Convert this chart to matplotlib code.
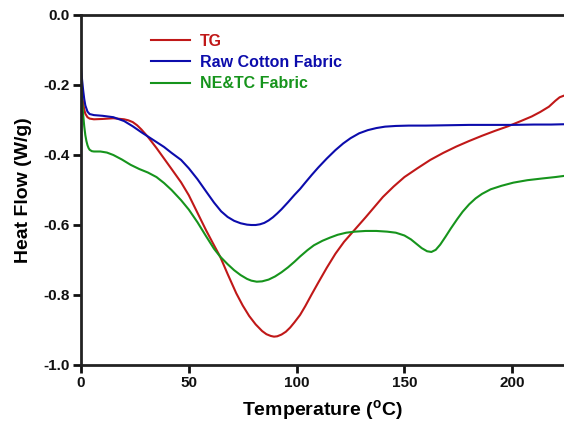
import matplotlib
matplotlib.use("Agg")
import matplotlib.pyplot as plt

plt.rcParams['font.family'] = ['Liberation Sans', 'DejaVu Sans']
plt.rcParams['font.weight'] = 'bold'
plt.rcParams['axes.unicode_minus'] = False
plt.rcParams['mathtext.fontset'] = 'custom'
plt.rcParams['mathtext.rm'] = 'Liberation Sans:bold'
plt.rcParams['mathtext.bf'] = 'Liberation Sans:bold'

tg_x = [0, 0.5, 1, 1.5, 2, 3, 4, 6, 10, 15, 20, 22, 24, 26, 28, 31, 35, 38.5, 42, 46.4, 50,
        54, 58, 61, 64.5, 68, 72, 75, 78, 81, 84, 86, 88, 89.5, 91, 93, 95, 97, 99, 101.6,
        104, 107, 110, 114, 118, 122, 127, 132, 136, 140, 145, 150, 156, 162, 168, 174,
        180, 186, 192, 198, 204, 209, 213, 217, 220, 222, 225]
tg_y = [-0.205, -0.23, -0.252, -0.27, -0.282, -0.292, -0.296, -0.298, -0.297, -0.295, -0.298,
        -0.301, -0.306, -0.315, -0.327, -0.348, -0.38, -0.41, -0.44, -0.478, -0.515,
        -0.565, -0.615, -0.65, -0.69, -0.74, -0.795, -0.83, -0.86, -0.884, -0.903, -0.912,
        -0.917, -0.919, -0.918, -0.913, -0.905, -0.893, -0.878, -0.857,
        -0.832, -0.798, -0.765, -0.722, -0.682, -0.648, -0.613, -0.578, -0.549, -0.52, -0.49,
        -0.463, -0.438, -0.414, -0.394, -0.376, -0.36, -0.345, -0.331, -0.318, -0.303,
        -0.29, -0.277, -0.262, -0.245, -0.235, -0.228]

raw_x = [0, 0.5, 1, 1.5, 2, 3, 4, 6, 10, 15, 20, 24, 28, 33, 38.5, 42, 46.4, 50, 54, 58,
         61.7, 65, 68, 71, 74, 77, 79, 81, 83, 85, 87, 89, 91, 93, 96, 99, 101.6, 104, 107,
         110, 114, 118, 121.6, 125, 129, 133, 137, 141, 146, 152, 160, 170, 180, 190, 200,
         210, 218, 225]
raw_y = [-0.15, -0.185, -0.215, -0.24, -0.258, -0.276, -0.283, -0.286, -0.288, -0.292,
         -0.303, -0.318, -0.335, -0.355, -0.377, -0.394, -0.414, -0.438, -0.469, -0.504,
         -0.536, -0.561, -0.577, -0.588, -0.595, -0.599, -0.600, -0.600, -0.598, -0.594,
         -0.587, -0.578, -0.567, -0.555, -0.535, -0.514, -0.497, -0.479, -0.457,
         -0.436, -0.41, -0.386, -0.367, -0.352, -0.338, -0.329, -0.323, -0.319, -0.317,
         -0.316, -0.316, -0.315, -0.314, -0.314, -0.314, -0.313, -0.313, -0.312]

ne_x = [0, 0.5, 1, 1.5, 2, 2.5, 3, 3.5, 4, 5, 6, 9, 12, 15, 19, 23, 27, 31, 35, 38.5, 42,
        46.4, 50, 54, 58, 61.7, 64.5, 68, 71, 74, 77, 79, 81.5, 84, 87, 90, 93, 96, 99,
        101.6, 105, 108, 112, 115.5, 119, 123, 127, 132, 137, 142, 146, 150, 153, 156,
        158, 160.5, 162.5, 164.5, 166.6, 169, 171.5, 174.5, 177, 180, 183, 186, 190, 195,
        200.5, 207, 214, 220, 225]
ne_y = [-0.205, -0.245, -0.285, -0.318, -0.343, -0.36, -0.372, -0.38, -0.385, -0.389, -0.39,
        -0.39, -0.393, -0.40, -0.413, -0.428, -0.44, -0.45, -0.463, -0.48, -0.50,
        -0.529, -0.556, -0.592, -0.632, -0.668, -0.69, -0.712, -0.729, -0.743, -0.754,
        -0.759, -0.762, -0.761, -0.756, -0.747, -0.735, -0.721, -0.705,
        -0.69, -0.672, -0.658, -0.645, -0.636, -0.628, -0.622, -0.619, -0.617, -0.617,
        -0.619, -0.622, -0.63, -0.641, -0.656, -0.666, -0.675, -0.677, -0.671, -0.656,
        -0.634, -0.61, -0.583, -0.562, -0.541, -0.524, -0.511, -0.498, -0.488,
        -0.479, -0.472, -0.467, -0.463, -0.459]

x_ticks = [0, 50, 100, 150, 200]
y_ticks = [0.0, -0.2, -0.4, -0.6, -0.8, -1.0]
labels = ['TG', 'Raw Cotton Fabric', 'NE&TC Fabric']
colors = ['#c01818', '#0c0cac', '#16941c']

fig = plt.figure(figsize=(5.64, 4.26), dpi=100)
ax = fig.add_axes([81/564, 61/426, 1 - 81/564, 350/426])

lines = []
for xs, ys, c, lab in zip([tg_x, raw_x, ne_x], [tg_y, raw_y, ne_y], colors, labels):
    l, = ax.plot(xs, ys, color=c, lw=1.5, label=lab, solid_joinstyle='round')
    lines.append(l)

ax.set_xlim(0, 224)
ax.set_ylim(-1.0, 0.0)
ax.set_xticks(x_ticks)
ax.set_yticks(y_ticks)
ax.set_yticklabels([f'{v:.1f}' for v in y_ticks])
ax.spines['right'].set_visible(False)
for s in ['left', 'bottom', 'top']:
    ax.spines[s].set_linewidth(2.0)
    ax.spines[s].set_color('#222222')
ax.tick_params(axis='both', direction='out', length=5.5, width=2.0, labelsize=11,
               colors='#111111', pad=2.5)
ax.tick_params(axis='x', top=False)

ax.set_xlabel(r'Temperature ($\mathregular{^o}$C)', fontsize=14, fontweight='bold', labelpad=6)
ax.set_ylabel('Heat Flow (W/g)', fontsize=14, fontweight='bold', labelpad=8)

leg = ax.legend(handles=lines, loc='upper left', bbox_to_anchor=(143/564, 1 - 26/426),
                bbox_transform=fig.transFigure, frameon=False, fontsize=11.5,
                handlelength=2.45, handletextpad=0.6, labelspacing=0.38, borderpad=0)
for t, c in zip(leg.get_texts(), colors):
    t.set_color(c)
    t.set_fontweight('bold')

fig.savefig('out.png', dpi=100)
